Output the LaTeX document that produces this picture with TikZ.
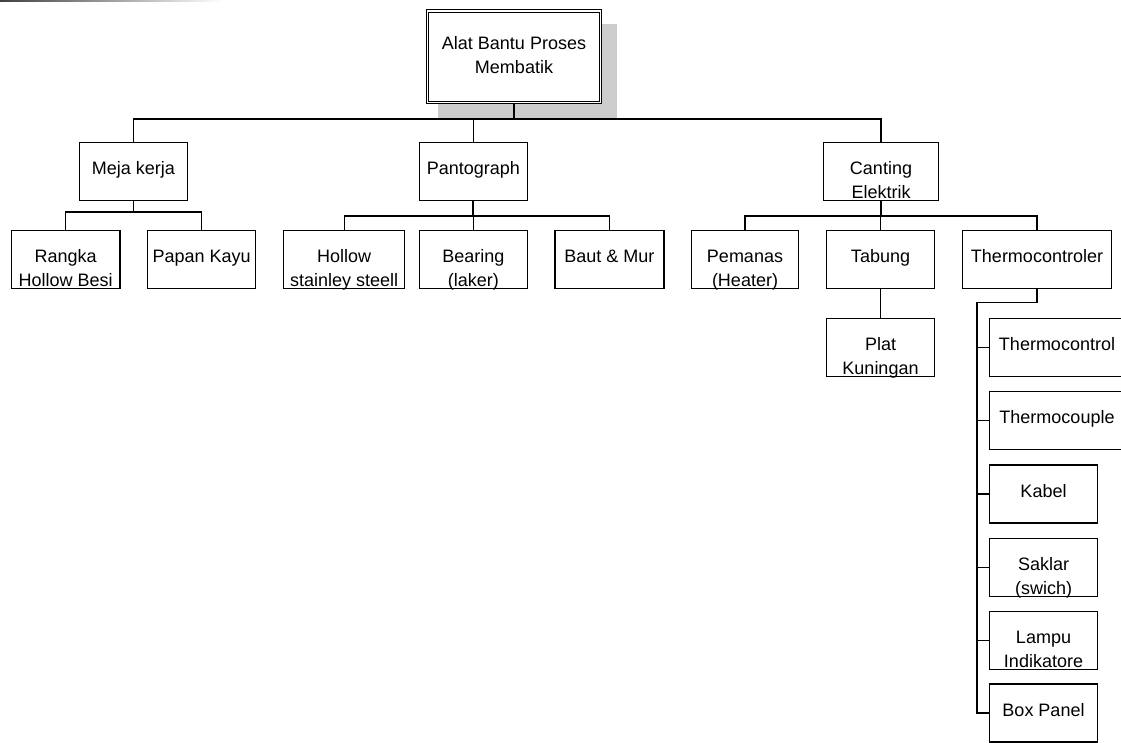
\documentclass[tikz,border=0pt]{standalone}
\usepackage{fontspec}
\setmainfont{Liberation Sans}
\newcommand\twoline[2]{\begin{tabular}[t]{@{}c@{}}#1\\#2\end{tabular}}
\begin{document}
\begin{tikzpicture}[x=1pt,y=-1pt,
  box/.style={draw, line width=1.2pt, inner sep=0pt, minimum height=58pt, fill=white},
  topbox/.style={draw, line width=1.1pt, double=white, double distance=1.3pt, inner sep=0pt, minimum width=173pt, minimum height=91.6pt, fill=white},
  lbl/.style={anchor=base, inner sep=0pt, font=\fontsize{18}{24}\selectfont},
  link/.style={line width=1.2pt},
  stem/.style={line width=1.9pt}]
\useasboundingbox (0,0) rectangle (1121,743);
\clip (0,0) rectangle (1121,743);
\fill[white] (0,0) rectangle (1121,743);
% faded rule at the top left
\shade[left color=black!75, right color=white] (0,0) rectangle (222,2);
% shadow of the root
\fill[gray!40] (438,24) rectangle (617,118.5);
% root
\node[topbox] (root) at (514,56.8) {};
\node[lbl] at (514,50) {\twoline{Alat Bantu Proses}{Membatik}};
% level 1
\node[box, minimum width=108.4pt] (meja) at (133.5,171.5) {};
\node[lbl] at (133.5,174.5) {Meja kerja};
\node[box, minimum width=108pt] (panto) at (473.3,171.5) {};
\node[lbl] at (473.3,174.5) {Pantograph};
\node[box, minimum width=115pt] (canting) at (881,171.5) {};
\node[lbl] at (881,174.5) {\twoline{Canting}{Elektrik}};
% level 2
\node[box, minimum width=108.4pt] (rangka) at (65.7,259.2) {};
\node[lbl] at (65.7,262.2) {\twoline{Rangka}{Hollow Besi}};
\node[box, minimum width=108.3pt] (papan) at (201.7,259.2) {};
\node[lbl] at (201.7,262.2) {Papan Kayu};
\node[box, minimum width=121.4pt] (hollow) at (344.1,259.2) {};
\node[lbl] at (344.1,262.2) {\twoline{Hollow}{stainley steell}};
\node[box, minimum width=108pt] (bearing) at (473.3,259.2) {};
\node[lbl] at (473.3,262.2) {\twoline{Bearing}{(laker)}};
\node[box, minimum width=109pt] (baut) at (609.4,259.2) {};
\node[lbl] at (609.4,262.2) {Baut \& Mur};
\node[box, minimum width=107pt] (pemanas) at (745,259.2) {};
\node[lbl] at (745,262.2) {\twoline{Pemanas}{(Heater)}};
\node[box, minimum width=108pt] (tabung) at (880.5,259.2) {};
\node[lbl] at (880.5,262.2) {Tabung};
\node[box, minimum width=149pt] (thermo) at (1037,259.2) {};
\node[lbl] at (1037,262.2) {Thermocontroler};
% level 3
\node[box, minimum width=108pt] (plat) at (880.5,347.5) {};
\node[lbl] at (880.5,350.5) {\twoline{Plat}{Kuningan}};
\node[box, minimum width=135pt] (tctrl) at (1057,347.5) {};
\node[lbl] at (1057,350.5) {Thermocontrol};
\node[box, minimum width=135pt] (tcpl) at (1057,420.5) {};
\node[lbl] at (1057,423.5) {Thermocouple};
\node[box, minimum width=108pt] (kabel) at (1043.5,494) {};
\node[lbl] at (1043.5,497) {Kabel};
\node[box, minimum width=108pt] (saklar) at (1043.5,567.5) {};
\node[lbl] at (1043.5,570.5) {\twoline{Saklar}{(swich)}};
\node[box, minimum width=108pt] (lampu) at (1043.5,640.5) {};
\node[lbl] at (1043.5,643.5) {\twoline{Lampu}{Indikatore}};
\node[box, minimum width=108pt] (boxp) at (1043.5,713) {};
\node[lbl] at (1043.5,716) {Box Panel};
% bus coordinates
\coordinate (b0) at (0,119);
\coordinate (b1) at (0,212);
\coordinate (b2) at (0,216);
\coordinate (b3) at (0,302.5);
\coordinate (spine) at (977,0);
\coordinate (thin) at (977,567.5);
% connectors
\draw[stem] (root.south) -- (root.south |- b0);
\draw[link] (meja.north) -- (meja.north |- b0) -- (canting.north |- b0) -- (canting.north);
\draw[link] (panto.north) -- (panto.north |- b0);
\draw[stem] (meja.south) -- (meja.south |- b1);
\draw[link] (rangka.north) -- (rangka.north |- b1) -- (papan.north |- b1) -- (papan.north);
\draw[stem] (panto.south) -- (panto.south |- b2);
\draw[link] (hollow.north) -- (hollow.north |- b2) -- (baut.north |- b2) -- (baut.north);
\draw[link] (bearing.north) -- (bearing.north |- b2);
\draw[stem] (canting.south) -- (canting.south |- b2);
\draw[link] (pemanas.north) -- (pemanas.north |- b2) -- (thermo.north |- b2) -- (thermo.north);
\draw[link] (tabung.north) -- (tabung.north |- b2);
\draw[link] (tabung.south) -- (plat.north);
\draw[stem] (thermo.south) -- (thermo.south |- b3) -- (spine |- b3) -- (thin);
\draw[link] (thin) -- (spine |- boxp.west) -- (boxp.west);
\draw[link] (spine |- tctrl.west) -- (tctrl.west);
\draw[link] (spine |- tcpl.west) -- (tcpl.west);
\draw[link] (spine |- kabel.west) -- (kabel.west);
\draw[link] (spine |- saklar.west) -- (saklar.west);
\draw[link] (spine |- lampu.west) -- (lampu.west);
\end{tikzpicture}
\end{document}
